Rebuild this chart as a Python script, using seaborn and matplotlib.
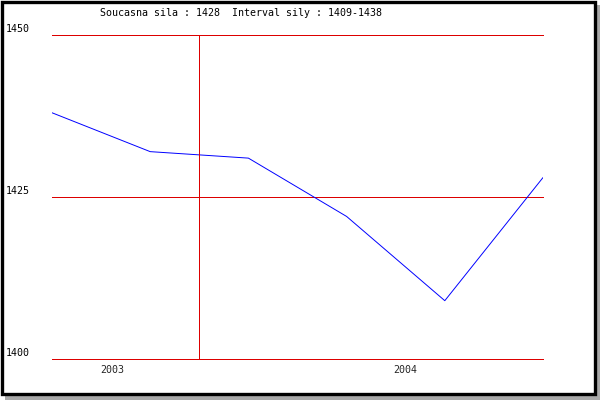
import numpy as np
import pandas as pd
import matplotlib
matplotlib.use("Agg")
import matplotlib.pyplot as plt
import matplotlib.transforms as mtransforms
from matplotlib.patches import Rectangle
import seaborn as sns

# data
period = [0, 1, 2, 3, 4, 5]
sila = [1438, 1432, 1431, 1422, 1409, 1428]
y_ticks = [1400, 1425, 1450]
year_pos = [0.61, 3.6]
year_labels = ["2003", "2004"]
year_divider = 1.5
title = "Soucasna sila : 1428  Interval sily : 1409-1438"

df = pd.DataFrame({"period": period, "sila": sila})

sns.set_style("white")
plt.rcParams["font.family"] = ["DejaVu Sans Mono"]
fs = 7.2
lw = 0.5

fig = plt.figure(figsize=(6, 4), dpi=100)
fig.patch.set_facecolor("white")

# shadow + black frame around the whole picture
fig.patches.append(Rectangle((5 / 600, 0), 595 / 600, 395 / 400, transform=fig.transFigure,
                             facecolor="#a9a9a9", edgecolor="none", zorder=0))
fig.patches.append(Rectangle((1.5 / 600, 6.5 / 400), 593 / 600, 392 / 400, transform=fig.transFigure,
                             facecolor="white", edgecolor="black", linewidth=2.4, zorder=1))

ax = fig.add_axes([52 / 600, 1 - 359 / 400, 491 / 600, 324 / 400])
ax.set_facecolor("none")
ax.set_zorder(2)

sns.lineplot(data=df, x="period", y="sila", ax=ax, color="#0000ff", linewidth=0.7)

ax.set_xlim(period[0], period[-1])
ax.set_ylim(y_ticks[0], y_ticks[-1])
for s in ax.spines.values():
    s.set_visible(False)

# horizontal grid lines
ax.set_yticks(y_ticks)
ax.set_yticklabels([])
ax.tick_params(axis="y", length=0)
ax.yaxis.grid(True, color="#dd0000", linewidth=lw, antialiased=False)
for g in ax.get_ygridlines():
    g.set_clip_on(False)
ax.axvline(year_divider, color="#dd0000", linewidth=lw, antialiased=False)

# y labels sit above the grid line at the left edge
trans = mtransforms.offset_copy(ax.get_yaxis_transform(), fig=fig, x=0, y=1, units="dots")
for v in y_ticks:
    ax.text(6 / 491 - 52 / 491, v, str(v), transform=trans, ha="left", va="bottom",
            fontsize=fs, color="black")

ax.set_xticks(year_pos)
ax.set_xticklabels(year_labels, fontsize=fs)
ax.tick_params(axis="x", length=0, pad=4)
ax.set_xlabel("")
ax.set_ylabel("")

fig.text(100 / 600, 1 - 13 / 400, title, ha="left", va="center", fontsize=fs, color="black")

fig.savefig("out.png", dpi=100)
